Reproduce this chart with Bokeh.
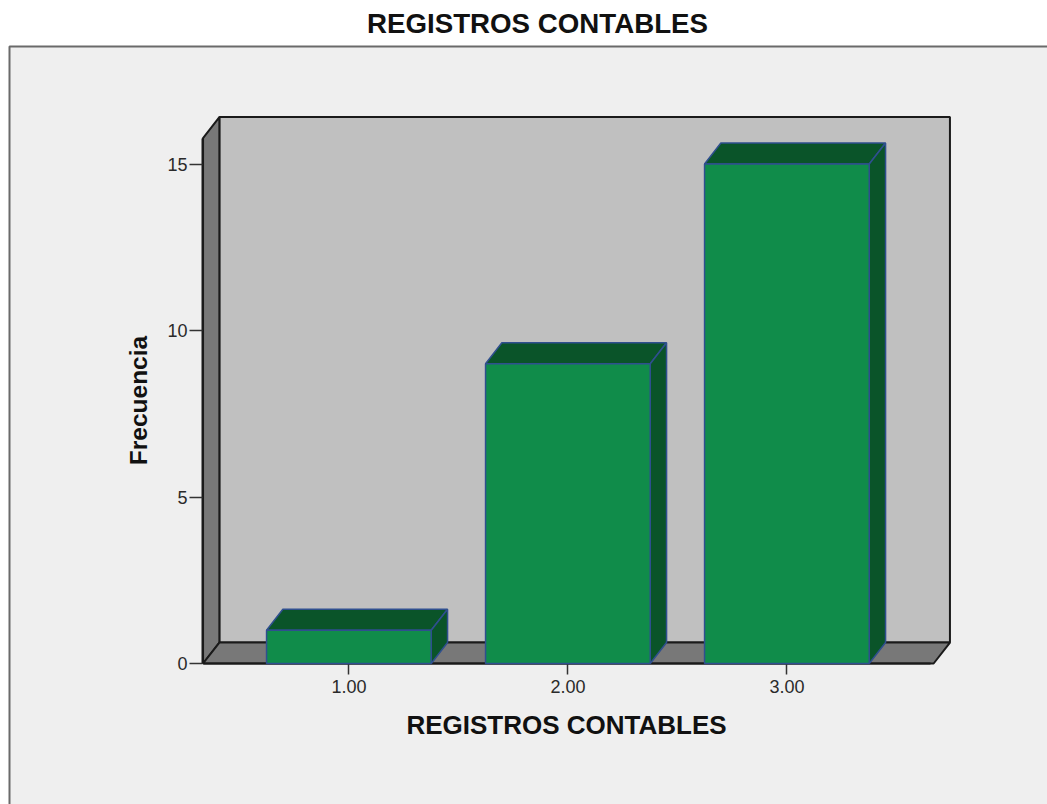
from bokeh.plotting import figure
from bokeh.models import Range1d, FixedTicker, Title
from bokeh.embed import file_html
from bokeh.resources import INLINE

categories = [1, 2, 3]
category_labels = ["1.00", "2.00", "3.00"]
frequencies = [1, 9, 15]
y_ticks = [0, 5, 10, 15]
title_text = "REGISTROS CONTABLES"
x_label = "REGISTROS CONTABLES"
y_label = "Frecuencia"

W, H = 1047, 804
BAR_W = 0.752
DX, DY = 0.0745, 0.63
X0, X1 = 0.334, 3.67
Y_TOP = 15.78
FONT = "Liberation Sans"
LINE = "#2f4f8f"

# frame placement in pixels and the data scale it implies
F_L, F_R, F_T, F_B = 202, 930, 137, 663
PX_PER_X, PX_PER_Y = 219.0, 33.3
X_AT_1 = 348.4
x_start = 1 + (F_L - X_AT_1) / PX_PER_X
x_end = 1 + (F_R - X_AT_1) / PX_PER_X
y_end = (F_B - F_T) / PX_PER_Y

def xd(px):
    return 1 + (px - X_AT_1) / PX_PER_X

def yd(py):
    return (F_B - py) / PX_PER_Y

p = figure(width=W, height=H, output_backend="svg", toolbar_location=None,
           x_range=Range1d(x_start, x_end), y_range=Range1d(0, y_end),
           min_border_left=F_L, min_border_right=W - F_R, min_border_top=F_T, min_border_bottom=H - F_B,
           background_fill_color=None, border_fill_color="white",
           outline_line_color=None)
p.grid.visible = False

# outer panel behind the chart (unclipped level)
p.quad(left=[xd(9)], right=[xd(W + 10)], top=[yd(46)], bottom=[yd(H + 10)],
       fill_color="#EFEFEF", line_color="#6a6a6a", line_width=2, level="guide")

# walls
p.quad(left=[X0 + DX], right=[X1 + DX], bottom=[DY], top=[Y_TOP + DY],
       fill_color="#C0C0C0", line_color="#1a1a1a", line_width=2, level="guide")
p.patch([X0, X0 + DX, X0 + DX, X0], [0, DY, Y_TOP + DY, Y_TOP],
        fill_color="#787878", line_color="#1a1a1a", line_width=2, level="guide")
p.patch([X0, X0 + DX, X1 + DX, X1], [0, DY, DY, 0],
        fill_color="#787878", line_color="#1a1a1a", line_width=2, level="guide")

# bars
for c, v in zip(categories, frequencies):
    l, r = c - BAR_W / 2, c + BAR_W / 2
    p.patch([l, l + DX, r + DX, r], [v, v + DY, v + DY, v],
            fill_color="#0A5429", line_color=LINE, line_width=1.5, level="annotation")
    p.patch([r, r + DX, r + DX, r], [0, DY, v + DY, v],
            fill_color="#0A5429", line_color=LINE, line_width=1.5, level="annotation")
    p.quad(left=[l], right=[r], bottom=[0], top=[v],
           fill_color="#108C4A", line_color=LINE, line_width=1.5, level="annotation")

# axes
xa, ya = p.xaxis[0], p.yaxis[0]
xa.ticker = FixedTicker(ticks=categories)
xa.major_label_overrides = dict(zip(categories, category_labels))
xa.bounds = (X0, X1)
ya.ticker = FixedTicker(ticks=y_ticks)
ya.bounds = (0, Y_TOP)
for ax in (xa, ya):
    ax.axis_line_color = "#1a1a1a"
    ax.axis_line_width = 2
    ax.major_tick_line_color = "#333333"
    ax.major_tick_line_width = 1.5
    ax.major_tick_in = 0
    ax.minor_tick_line_color = None
    ax.major_label_text_font = FONT
    ax.major_label_text_font_size = "18px"
    ax.major_label_text_color = "#2a2a2a"
    ax.axis_label_text_font = FONT
    ax.axis_label_text_font_style = "bold"
    ax.axis_label_text_color = "#111111"
xa.axis_label_text_font_size = "26px"
ya.axis_label_text_font_size = "24.5px"
xa.major_tick_out = 11
ya.major_tick_out = 13
xa.major_label_standoff = 5
ya.major_label_standoff = 2
xa.axis_label = x_label
ya.axis_label = y_label
xa.axis_label_standoff = 14
ya.axis_label_standoff = 12

spacer = Title(text=" ", text_font_size="13px", standoff=77)
t = Title(text=title_text, text_font=FONT, text_font_size="27.7px", text_font_style="bold",
          text_color="#111111", align="left", offset=164.5, standoff=9)
p.add_layout(spacer, "above")
p.add_layout(t, "above")

open("out.html", "w").write(file_html(p, INLINE))
